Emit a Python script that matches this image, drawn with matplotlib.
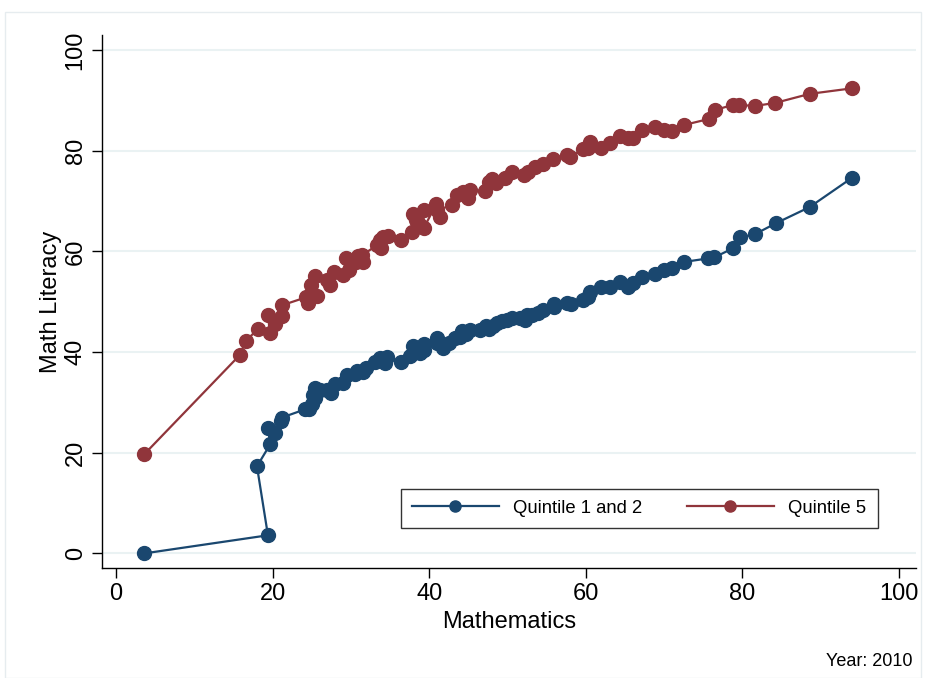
import matplotlib
matplotlib.use("Agg")
import matplotlib.pyplot as plt
from matplotlib.patches import Rectangle

plt.rcParams['font.family'] = ['Liberation Sans', 'DejaVu Sans']

# Quintile 1 and 2
q12_x = [3.6, 19.4, 18.0, 19.7, 19.4, 20.3, 21.1, 21.2, 24.1, 24.6, 25.0, 25.4, 25.1, 25.4,
         26.0, 27.0, 27.4, 28.0, 29.0, 29.5, 30.5, 30.8, 31.5, 31.9, 33.1, 33.7, 34.3, 34.6,
         36.4, 37.5, 37.9, 38.3, 38.8, 39.3, 39.4, 41.0, 41.0, 41.8, 42.5, 43.3, 43.9, 44.2,
         44.7, 45.2, 46.5, 47.3, 47.7, 48.2, 48.7, 49.3, 49.9, 50.6, 51.6, 52.2, 52.5, 53.1,
         53.9, 54.5, 56.0, 56.0, 57.6, 58.1, 59.6, 60.3, 60.6, 62.0, 63.1, 64.4, 65.4, 66.0,
         67.2, 68.8, 70.0, 71.0, 72.5, 75.6, 76.4, 78.8, 79.7, 81.6, 84.3, 88.6, 94.0]
q12_y = [0.0, 3.6, 17.3, 21.7, 24.9, 23.9, 26.4, 27.0, 28.6, 28.6, 29.6, 30.8, 31.4, 32.8,
         32.4, 32.4, 31.8, 33.6, 33.8, 35.4, 35.6, 36.2, 36.0, 36.8, 38.0, 38.8, 37.8, 39.0,
         38.0, 39.2, 41.2, 40.0, 39.8, 41.7, 40.4, 41.9, 42.7, 40.8, 41.9, 42.7, 43.0, 44.1,
         43.5, 44.3, 44.3, 45.1, 44.5, 45.1, 45.7, 46.1, 46.3, 46.7, 46.7, 46.3, 47.3, 47.3,
         47.7, 48.3, 48.9, 49.5, 49.7, 49.5, 50.3, 50.9, 51.9, 52.9, 52.9, 53.9, 52.9, 53.7,
         55.0, 55.5, 56.3, 56.7, 57.9, 58.6, 58.8, 60.6, 62.8, 63.4, 65.6, 68.8, 74.6]

# Quintile 5
q5_x = [3.6, 15.8, 16.6, 18.1, 19.7, 19.4, 20.3, 21.2, 21.2, 24.3, 24.5, 25.0, 25.7, 24.9,
        25.4, 26.9, 27.3, 27.9, 29.0, 29.4, 29.8, 30.6, 30.9, 31.6, 31.4, 33.3, 33.7, 33.8,
        34.1, 34.7, 36.4, 37.8, 37.9, 38.3, 38.8, 39.3, 39.3, 40.9, 41.4, 41.0, 42.9, 43.6,
        44.3, 44.9, 45.2, 47.1, 47.6, 48.0, 48.6, 49.7, 50.6, 52.1, 52.6, 53.5, 54.5, 55.8,
        57.6, 58.0, 59.6, 60.3, 60.6, 62.0, 63.1, 64.4, 65.4, 66.0, 67.2, 68.8, 70.0, 71.0,
        72.5, 75.7, 76.5, 78.8, 79.6, 81.6, 84.2, 88.6, 94.0]
q5_y = [19.7, 39.4, 42.3, 44.5, 43.7, 47.3, 45.5, 47.1, 49.3, 50.9, 49.7, 51.5, 51.1, 53.3,
        55.1, 54.3, 53.3, 55.9, 55.3, 58.6, 56.3, 57.8, 59.0, 57.8, 59.2, 61.2, 62.2, 60.6,
        62.8, 63.0, 62.2, 63.8, 67.4, 66.2, 65.2, 68.2, 64.6, 69.4, 66.8, 68.2, 69.2, 71.2,
        71.8, 70.6, 72.2, 72.0, 73.8, 74.4, 73.6, 74.6, 75.7, 75.1, 75.7, 76.7, 77.3, 78.3,
        79.1, 78.7, 80.3, 80.5, 81.7, 80.5, 81.5, 82.9, 82.5, 82.5, 84.1, 84.7, 84.1, 83.9,
        85.1, 86.3, 88.1, 89.1, 89.1, 88.9, 89.5, 91.3, 92.4]

blue = '#1a476f'
red = '#90353b'

fig = plt.figure(figsize=(9.25, 6.78), dpi=100)
# light outer frame like Stata graph region
fig.patches.append(Rectangle((5 / 925, 0), 916 / 925, 1 - 12 / 678, transform=fig.transFigure,
                             fill=False, edgecolor='#e6ecef', lw=1))
ax = fig.add_axes([102 / 925, 110 / 678, 814 / 925, 533 / 678])

ax.plot(q12_x, q12_y, '-o', color=blue, lw=1.6, ms=10, label='Quintile 1 and 2', zorder=3)
ax.plot(q5_x, q5_y, '-o', color=red, lw=1.6, ms=10, label='Quintile 5', zorder=3)

ax.set_xlim(-1.8, 102.2)
ax.set_ylim(-2.9, 103)
ax.set_xticks([0, 20, 40, 60, 80, 100])
ax.set_yticks([0, 20, 40, 60, 80, 100])
ax.grid(axis='y', color='#eaf2f3', lw=1.5, zorder=0)
ax.set_axisbelow(True)
for s in ['top', 'right']:
    ax.spines[s].set_visible(False)
for s in ['left', 'bottom']:
    ax.spines[s].set_color('black')
    ax.spines[s].set_linewidth(1)
ax.tick_params(direction='out', length=7, width=1, labelsize=17, pad=4)
plt.setp(ax.get_yticklabels(), rotation=90, va='center')
ax.set_xlabel('Mathematics', fontsize=17, labelpad=4)
ax.set_ylabel('Math Literacy', fontsize=17, labelpad=2)

leg = ax.legend(loc='lower left', bbox_to_anchor=(0.367, 0.075), ncol=2, fontsize=13.3,
                frameon=True, fancybox=False, edgecolor='black', handlelength=4.7,
                columnspacing=2.4, borderpad=0.6, borderaxespad=0, markerscale=0.8)
leg.get_frame().set_linewidth(1)

fig.text(912 / 925, 1 - 662 / 678, 'Year: 2010', ha='right', va='center', fontsize=13)

fig.savefig('out.png', dpi=100)
